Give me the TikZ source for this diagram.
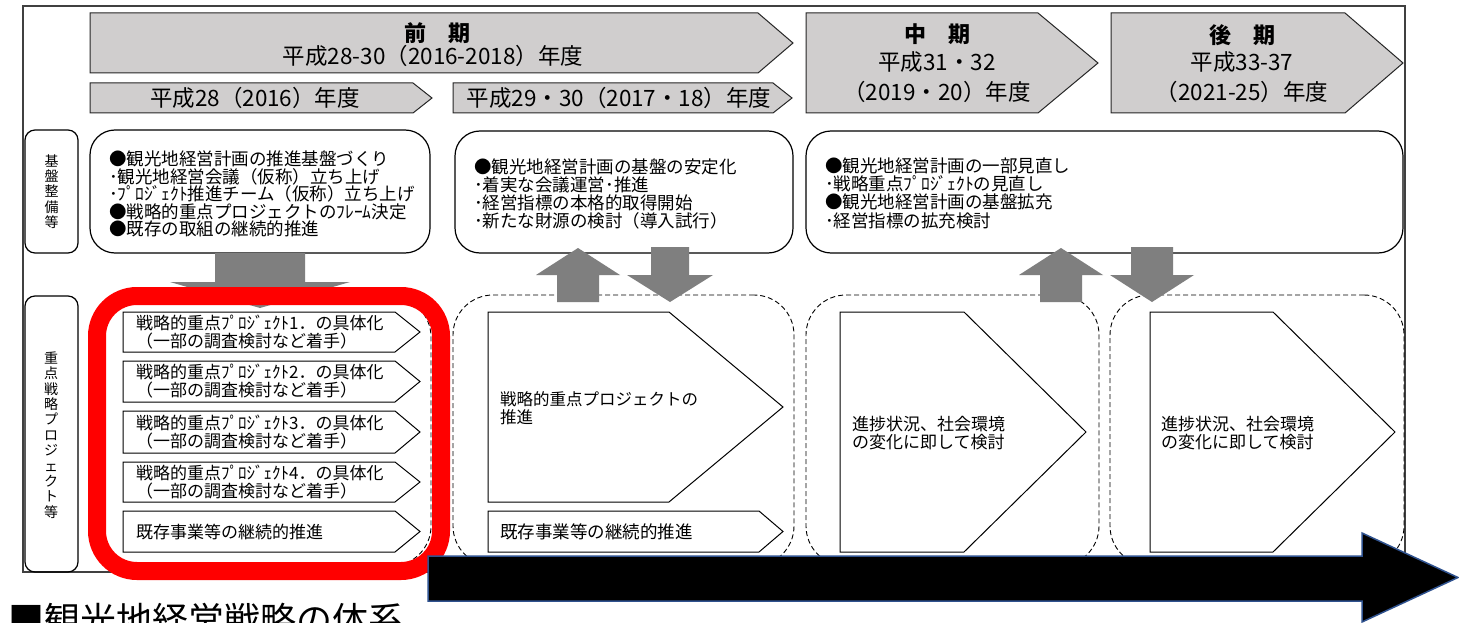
\documentclass[tikz,border=0pt]{standalone}
\usepackage{fontspec}
\setmainfont{Noto Sans CJK JP}
\usetikzlibrary{calc}
\definecolor{hdr}{HTML}{D0CECE}
\definecolor{garrow}{HTML}{7F7F7F}
\definecolor{bblue}{HTML}{2F528F}
\definecolor{frame}{HTML}{404040}
\tikzset{
  hdrshape/.style={draw=black!85, line width=1pt, fill=hdr},
  topbox/.style={draw=black, line width=1.2pt, rounded corners=25pt, inner sep=0pt, outer sep=0pt},
  lblbox/.style={draw=black, line width=1.2pt, rounded corners=10pt, inner sep=0pt, outer sep=0pt},
  dashbox/.style={draw=black, line width=0.9pt, dash pattern=on 5pt off 3pt, rounded corners=40pt, inner sep=0pt, outer sep=0pt},
  pentshape/.style={draw=black, line width=1pt, fill=white},
  garr/.style={fill=garrow, draw=none},
  txt/.style={inner sep=0pt, align=left, anchor=west},
  hdrbig/.style={inner sep=0pt, font=\fontsize{22}{24}\selectfont\bfseries},
  hdrsmall/.style={inner sep=0pt, font=\fontsize{22.5}{24}\selectfont},
  boxtxt/.style={txt, font=\fontsize{17.5}{18.3}\selectfont},
  ptxt/.style={txt, font=\fontsize{17}{18}\selectfont},
  vtxt/.style={inner sep=0pt, align=center, font=\fontsize{14}{15.4}\selectfont},
}
% rectangle node: name, x1, y1, x2, y2, style
\newcommand\rbox[6]{%
  \node[#6, minimum width=#4pt-#2pt, minimum height=#5pt-#3pt, anchor=north west] (#1) at (#2,#3) {};}
% pentagon: x1,y1,xr(rect end),x2(tip),y2
\newcommand\pent[5]{%
  \draw[pentshape] (#1,#2) -- (#3,#2) -- (#4,{(#2+#5)/2}) -- (#3,#5) -- (#1,#5) -- cycle;}
% up block arrow: centre x, tip y, head base y, bottom y, half shaft, half head
\newcommand\uparr[6]{%
  \fill[garr] (#1-#5,#4) -- (#1-#5,#3) -- (#1-#6,#3) -- (#1,#2) -- (#1+#6,#3) -- (#1+#5,#3) -- (#1+#5,#4) -- cycle;}
\newcommand\downarr[6]{%
  \fill[garr] (#1-#5,#4) -- (#1-#5,#3) -- (#1-#6,#3) -- (#1,#2) -- (#1+#6,#3) -- (#1+#5,#3) -- (#1+#5,#4) -- cycle;}
\begin{document}
\begin{tikzpicture}[x=1pt,y=-1pt]
\useasboundingbox (0,0) rectangle (1459,623);
\clip (0,0) rectangle (1459,623);
\fill[white] (0,0) rectangle (1459,623);

% outer frame
\draw[frame, line width=1.3pt] (23,6) rectangle (1405,572);

% header shapes
\draw[hdrshape] (90,13) -- (758,13) -- (793,43) -- (758,73) -- (90,73) -- cycle;
\node[hdrbig] (zenkiT) at (437,33) {前　期};
\node[hdrsmall] (zenkiY) at (433,56) {平成28-30（2016-2018）年度};

\draw[hdrshape] (90,83) -- (413,83) -- (432,98) -- (413,113) -- (90,113) -- cycle;
\node[hdrsmall] (h28) at (255,98) {平成28（2016）年度};

\draw[hdrshape] (453,83) -- (773,83) -- (792,98) -- (773,113) -- (453,113) -- cycle;
\node[hdrsmall] (h2930) at (619,98) {平成29・30（2017・18）年度};

\draw[hdrshape] (806,13) -- (1038,13) -- (1098,63) -- (1038,113) -- (806,113) -- cycle;
\node[hdrbig] (chukiT) at (937,34) {中　期};
\node[hdrsmall] (chukiA) at (937,62) {平成31・32};
\node[hdrsmall] (chukiB) at (937,92) {（2019・20）年度};

\draw[hdrshape] (1111,13) -- (1345,13) -- (1403,63) -- (1345,113) -- (1111,113) -- cycle;
\node[hdrbig] (kokiT) at (1242,35) {後　期};
\node[hdrsmall] (kokiA) at (1242,62) {平成33-37};
\node[hdrsmall] (kokiB) at (1242,92) {（2021-25）年度};

% left labels
\rbox{lb1}{25}{130}{78}{253}{lblbox}
\node[vtxt] (lb1t) at (lb1.center) {基\\盤\\整\\備\\等};
\rbox{lb2}{25}{296}{78}{572}{lblbox}
\node[vtxt] (lb2t) at (51,435) {重\\点\\戦\\略\\プ\\ロ\\ジ\\ェ\\ク\\ト\\等};

% top boxes
\rbox{tb1}{90}{130}{430}{253}{topbox}
\node[txt, font=\fontsize{17.5}{17.6}\selectfont] (tb1t) at (109,194) {●観光地経営計画の推進基盤づくり\\･観光地経営会議（仮称）立ち上げ\\･ﾌﾟﾛｼﾞｪｸﾄ推進チーム（仮称）立ち上げ\\●戦略的重点プロジェクトのﾌﾚｰﾑ決定\\●既存の取組の継続的推進};
\rbox{tb2}{455}{131}{793}{253}{topbox}
\node[boxtxt] (tb2t) at (474,194) {●観光地経営計画の基盤の安定化\\･着実な会議運営･推進\\･経営指標の本格的取得開始\\･新たな財源の検討（導入試行）};
\rbox{tb3}{806}{131}{1403}{253}{topbox}
\node[boxtxt] (tb3t) at (825,193) {●観光地経営計画の一部見直し\\･戦略重点ﾌﾟﾛｼﾞｪｸﾄの見直し\\●観光地経営計画の基盤拡充\\･経営指標の拡充検討};

% dashed boxes
\rbox{db1}{92}{297}{431}{566}{dashbox}
\rbox{db2}{453}{295}{794}{566}{dashbox}
\rbox{db3}{806}{295}{1099}{566}{dashbox}
\rbox{db4}{1110}{295}{1404}{566}{dashbox}

% column 1 pentagons
\pent{123}{312}{395}{420}{352}
\node[ptxt] (p1) at (136,332) {戦略的重点ﾌﾟﾛｼﾞｪｸﾄ1．の具体化\\（一部の調査検討など着手）};
\pent{123}{361}{395}{420}{402}
\node[ptxt] (p2) at (136,381.5) {戦略的重点ﾌﾟﾛｼﾞｪｸﾄ2．の具体化\\（一部の調査検討など着手）};
\pent{123}{411}{395}{420}{453}
\node[ptxt] (p3) at (136,432) {戦略的重点ﾌﾟﾛｼﾞｪｸﾄ3．の具体化\\（一部の調査検討など着手）};
\pent{123}{462}{395}{420}{502}
\node[ptxt] (p4) at (136,482) {戦略的重点ﾌﾟﾛｼﾞｪｸﾄ4．の具体化\\（一部の調査検討など着手）};
\pent{123}{511}{395}{420}{552}
\node[ptxt] (p5) at (136,532) {既存事業等の継続的推進};

% column 2
\pent{488}{312}{669}{783}{502}
\node[txt, font=\fontsize{16.5}{18}\selectfont] (q1) at (500,408) {戦略的重点プロジェクトの\\推進};
\pent{488}{511}{759}{783}{552}
\node[txt, font=\fontsize{17.5}{18}\selectfont] (q2) at (500,532) {既存事業等の継続的推進};

% column 3 and 4
\pent{840}{312}{964}{1086}{552}
\node[txt, font=\fontsize{17}{18}\selectfont] (r1) at (852,433) {進捗状況、社会環境\\の変化に即して検討};
\pent{1150}{312}{1273}{1395}{552}
\node[txt, font=\fontsize{17}{18}\selectfont] (s1) at (1161,433) {進捗状況、社会環境\\の変化に即して検討};

% gray block arrows
\downarr{260}{308}{282}{253}{45}{90}
\uparr{578}{248}{275}{302}{21}{42}
\downarr{670}{302}{275}{247}{19}{43}
\uparr{1061}{248}{275}{302}{21}{42}
\downarr{1152}{302}{275}{247}{21}{42}

% red highlight
\draw[red, line width=18pt, rounded corners=40pt] (97,296) rectangle (441,571);

% big black arrow
\draw[fill=black, draw=bblue, line width=1.5pt] (428,556) -- (1362,556) -- (1362,533) -- (1458,577.5) -- (1362,622) -- (1362,601) -- (428,601) -- cycle;

% title (cut by the lower edge)
\node[inner sep=0pt, anchor=base west, font=\fontsize{36}{40}\selectfont] (title) at (8,633) {■観光地経営戦略の体系};
\end{tikzpicture}
\end{document}
